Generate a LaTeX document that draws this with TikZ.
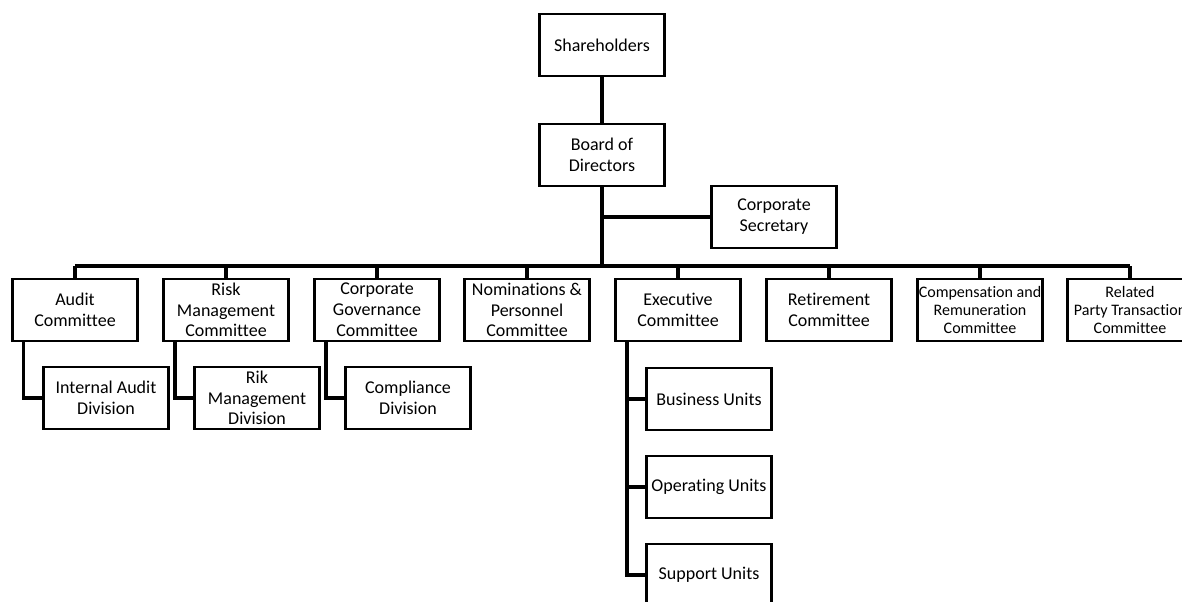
\documentclass[tikz,border=0pt]{standalone}
\usepackage{fontspec}
\setmainfont{Carlito}[Ligatures=NoCommon]

\begin{document}
\begin{tikzpicture}[x=0.025cm,y=-0.025cm,
        box/.style={draw,line width=2pt,minimum width=3.125cm,minimum height=1.55cm,inner sep=0pt,align=center,font=\fontsize{12.8}{14.8}\selectfont},
        small/.style={font=\fontsize{11.4}{13}\selectfont},
        link/.style={line width=2.3pt}]
            \useasboundingbox (0,0) rectangle (1182,602);
            \node[box] (sh) at (602,45) {Shareholders};
            \node[box] (bod) at (602,155) {Board of\\Directors};
            \node[box] (sec) at (774,217) {Corporate\\Secretary};
            \coordinate (bus) at (602,266);
            \node[box] (audit) at (75,310) {Audit\\Committee};
            \node[box] (risk) at (226,310) {Risk\\Management\\Committee};
            \node[box] (cgc) at (377,310) {Corporate\\Governance\\Committee};
            \node[box] (nom) at (527,310) {Nominations \&\\Personnel\\Committee};
            \node[box] (exec) at (678,310) {Executive\\Committee};
            \node[box] (ret) at (829,310) {Retirement\\Committee};
            \node[box,small] (comp) at (980,310) {Compensation and\\Remuneration\\Committee};
            \node[box,small] (rpt) at (1130,310) {Related\\Party Transaction\\Committee};
            \node[box] (iad) at (106,398) {Internal Audit\\Division};
            \node[box] (rmd) at (257,398) {Rik\\Management\\Division};
            \node[box] (comd) at (408,398) {Compliance\\Division};
            \node[box] (bu) at (709,399) {Business Units};
            \node[box] (ou) at (709,487) {Operating Units};
            \node[box] (su) at (709,575) {Support Units};
            \draw[link] (sh) -- (bod);
            \draw[link] (bod) -- (bus);
            \draw[link] (bod.south) |- (sec);
            \draw[link] (audit.north |- bus) -- (rpt.north |- bus);
            \draw[link] (audit) -- (audit.north |- bus) (risk) -- (risk.north |- bus) (cgc) -- (cgc.north |- bus) (nom) -- (nom.north |- bus);
            \draw[link] (exec) -- (exec.north |- bus) (ret) -- (ret.north |- bus) (comp) -- (comp.north |- bus) (rpt) -- (rpt.north |- bus);
            \draw[link] ([xshift=3.2mm]audit.south west) |- (iad);
            \draw[link] ([xshift=3.2mm]risk.south west) |- (rmd);
            \draw[link] ([xshift=3.2mm]cgc.south west) |- (comd);
            \draw[link] ([xshift=3.2mm]exec.south west) |- (bu);
            \draw[link] ([xshift=3.2mm]exec.south west) |- (ou);
            \draw[link] ([xshift=3.2mm]exec.south west) |- (su);
        \end{tikzpicture}
\end{document}
